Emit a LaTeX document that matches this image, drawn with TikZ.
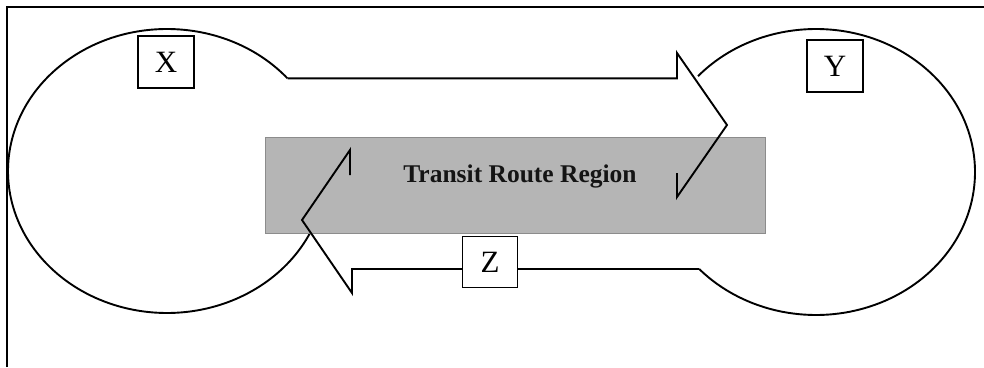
\documentclass[tikz,border=0pt]{standalone}
\usepackage{fontspec}
\setmainfont{Liberation Serif}
\definecolor{regionfill}{RGB}{181,181,181}
\definecolor{regionedge}{RGB}{140,140,140}
\tikzset{
  outline/.style={line width=1.9pt, black, line join=miter},
  labelbox/.style={draw, line width=1.3pt, fill=white, minimum width=56pt, minimum height=52pt, inner sep=0pt, font=\fontsize{31}{31}\selectfont},
  regionbox/.style={draw=regionedge, line width=1pt, fill=regionfill, minimum width=500pt, minimum height=96pt, inner sep=0pt},
  regiontext/.style={font=\fontsize{25.5}{26}\selectfont\bfseries, text=black!92, inner sep=0pt}
}
\begin{document}
\begin{tikzpicture}[x=1pt,y=-1pt]
\useasboundingbox (0,0) rectangle (984,367);
% frame
\draw[line width=2.2pt] (7,367) -- (7,7) -- (984,7);
% centres of the two regions
\coordinate (cL) at (167,171);
\coordinate (cR) at (816,172);
% left region X
\draw[outline] (cL) ++(-40.7:159 and 142) coordinate (L1)
  arc[start angle=-40.7, end angle=-334.1, x radius=159, y radius=142] coordinate (L2);
% right region Y
\draw[outline] (cR) ++(-137.9:159 and 143) coordinate (R1)
  arc[start angle=-137.9, end angle=137.3, x radius=159, y radius=143] coordinate (R2);
% transit route region
\node[regionbox] (region) at (515,185) {};
\node[regiontext, anchor=base] (regionlabel) at (520,182) {Transit Route Region};
% arrow points
\coordinate (uA) at (677,53);
\coordinate (uTip) at (727,125);
\coordinate (uB) at (677,197);
\coordinate (uC) at (677,173);
\coordinate (dA) at (352,293);
\coordinate (dTip) at (302,220);
\coordinate (dB) at (350,150);
\coordinate (dC) at (350,175);
% upper arrow X -> Y
\draw[outline] (L1) -- (L1 -| uA) -- (uA) -- (uTip) -- (uB) -- (uC);
% lower arrow Y -> X
\draw[outline] (R2) -- (R2 -| dA) -- (dA) -- (dTip) -- (dB) -- (dC);
% labels
\node[labelbox] (X) at (166,62) {X};
\node[labelbox] (Y) at (835,66) {Y};
\node[labelbox, minimum width=55pt, minimum height=51pt] (Z) at (490,262) {Z};
\end{tikzpicture}
\end{document}
